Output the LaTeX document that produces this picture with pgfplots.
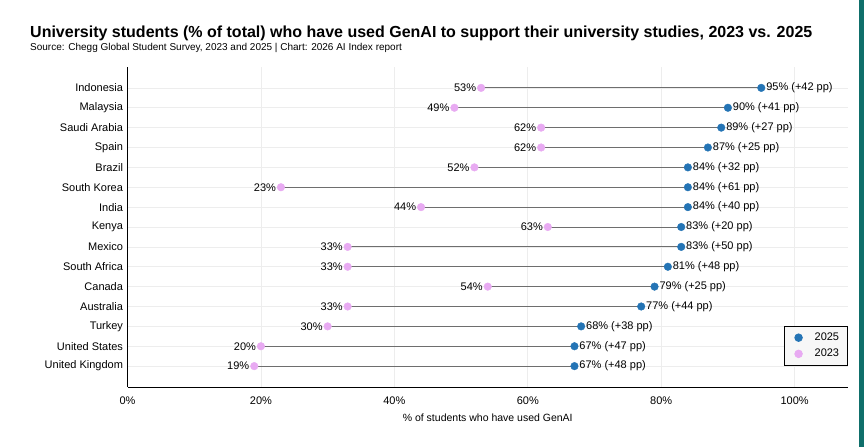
\documentclass[border=0pt]{standalone}
\usepackage{pgfplots}
\pgfplotsset{compat=1.18}
\usepackage{pgfplotstable}
\usepackage{fontspec}
\setmainfont{Liberation Sans}
\definecolor{dotblue}{HTML}{2474B5}
\definecolor{dotpink}{HTML}{E8AAF2}
\definecolor{gridc}{HTML}{EDEDED}
\definecolor{teal}{HTML}{0F6F6B}
\definecolor{linec}{HTML}{6E6E6E}
\pgfplotstableread{
y a b d
14 53 95 42
13 49 90 41
12 62 89 27
11 62 87 25
10 52 84 32
9 23 84 61
8 44 84 40
7 63 83 20
6 33 83 50
5 33 81 48
4 54 79 25
3 33 77 44
2 30 68 38
1 20 67 47
0 19 67 48
}\data
\begin{document}
\begin{tikzpicture}
\useasboundingbox (0,0) rectangle (864bp,447bp);
\fill[white] (0,0) rectangle (864bp,447bp);
\fill[teal] (859bp,0) rectangle (864bp,447bp);
\node[anchor=base west, inner sep=0pt, font=\fontsize{16bp}{18bp}\selectfont\bfseries] at (30bp,409bp) {University students (\% of total) who have used GenAI to support their university studies, 2023 vs. 2025};
\node[anchor=base west, inner sep=0pt, font=\fontsize{10bp}{11bp}\selectfont] at (30bp,396bp) {Source: Chegg Global Student Survey, 2023 and 2025 | Chart: 2026 AI Index report};
\begin{axis}[
  at={(127.5bp,60bp)}, anchor=south west,
  scale only axis, width=720.5bp, height=320bp,
  xmin=0, xmax=108, ymin=-1.05, ymax=15.05,
  axis x line*=bottom, axis y line*=left,
  axis line style={black, line width=0.9pt, -},
  xtick={0,20,...,100},
  xticklabels={0\%,20\%,40\%,60\%,80\%,100\%},
  ytick={0,...,14},
  yticklabels={United Kingdom,United States,Turkey,Australia,Canada,South Africa,Mexico,Kenya,India,South Korea,Brazil,Spain,Saudi Arabia,Malaysia,Indonesia},
  major tick length=0pt,
  /pgf/number format/assume math mode=true,
  tick label style={font=\fontsize{11bp}{12bp}\selectfont},
  xticklabel style={yshift=-6bp},
  yticklabel style={xshift=-1bp},
  xlabel={\% of students who have used GenAI},
  xlabel style={font=\fontsize{10.5bp}{12bp}\selectfont, yshift=-3bp},
  grid=major, major grid style={gridc, line width=0.6pt},
  clip=false,
  legend style={at={(1,0.19)}, anchor=north east, fill=black!3, draw=black, line width=0.8pt,
    font=\fontsize{11bp}{12bp}\selectfont, inner xsep=7bp, inner ysep=5bp, row sep=4bp,
    nodes={inner sep=1.5bp}, legend cell align=left},
  legend image code/.code={\fill[#1] (0.1cm,0cm) circle (3.8bp);\path (-0.15cm,0) (0.6cm,0);},
]
\addplot[linec, line width=0.8pt, unbounded coords=jump, forget plot] coordinates {
(53,14)(95,14)(nan,nan)
(49,13)(90,13)(nan,nan)
(62,12)(89,12)(nan,nan)
(62,11)(87,11)(nan,nan)
(52,10)(84,10)(nan,nan)
(23,9)(84,9)(nan,nan)
(44,8)(84,8)(nan,nan)
(63,7)(83,7)(nan,nan)
(33,6)(83,6)(nan,nan)
(33,5)(81,5)(nan,nan)
(54,4)(79,4)(nan,nan)
(33,3)(77,3)(nan,nan)
(30,2)(68,2)(nan,nan)
(20,1)(67,1)(nan,nan)
(19,0)(67,0)
};
\addplot[only marks, mark=*, mark size=3.8bp, color=dotblue, mark options={draw=dotblue, fill=dotblue},
  point meta=x, visualization depends on={\thisrow{d}\as\dval},
  nodes near coords={\pgfmathprintnumber{\pgfplotspointmeta}\% (+\pgfmathprintnumber{\dval} pp)},
  nodes near coords style={anchor=west, font=\fontsize{11bp}{12bp}\selectfont, inner sep=0pt, xshift=4.8bp, text=black}]
  table[x=b, y=y] {\data};
\addlegendentry{2025}
\addplot[only marks, mark=*, mark size=3.8bp, color=dotpink, mark options={draw=dotpink, fill=dotpink},
  point meta=x,
  nodes near coords={\pgfmathprintnumber{\pgfplotspointmeta}\%},
  nodes near coords style={anchor=east, font=\fontsize{11bp}{12bp}\selectfont, inner sep=0pt, xshift=-4.8bp, text=black}]
  table[x=a, y=y] {\data};
\addlegendentry{2023}
\end{axis}
\end{tikzpicture}
\end{document}
